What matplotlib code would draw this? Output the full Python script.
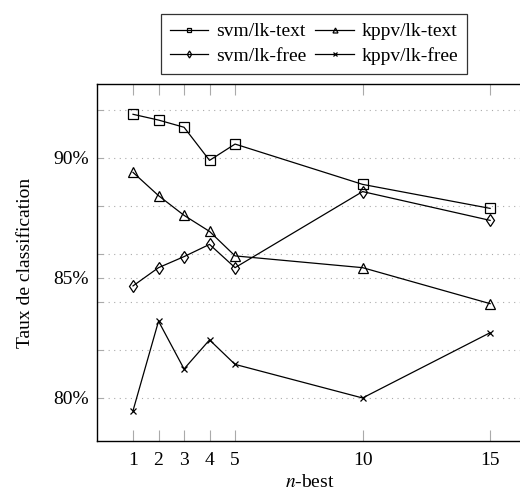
import matplotlib
matplotlib.use("Agg")
import matplotlib.pyplot as plt
from matplotlib.ticker import FixedLocator

plt.rcParams['font.family'] = ['Liberation Serif', 'DejaVu Serif']
plt.rcParams['mathtext.fontset'] = 'stix'

n_best = [1, 2, 3, 4, 5, 10, 15]
svm_text = [91.82, 91.58, 91.28, 89.90, 90.58, 88.90, 87.90]
kppv_text = [89.40, 88.43, 87.61, 86.94, 85.92, 85.43, 83.93]
svm_free = [84.67, 85.43, 85.89, 86.40, 85.43, 88.60, 87.40]
kppv_free = [79.47, 83.20, 81.21, 82.42, 81.40, 80.00, 82.72]
major_y = [80, 85, 90]
minor_y = [82, 84, 86, 88, 92]
y_labels = ['80%', '85%', '90%']

fig = plt.figure(figsize=(5.2, 4.95), dpi=100)
ax = fig.add_axes([97/520, 54.3/495, 425/520, 356.4/495])

lw = 0.9
h1, = ax.plot(n_best, svm_text, color='black', lw=lw, marker='s', ms=6.5, mfc='none', mew=0.9, label='svm/lk-text')
h2, = ax.plot(n_best, kppv_text, color='black', lw=lw, marker='^', ms=6.5, mfc='none', mew=0.9, label='kppv/lk-text')
h3, = ax.plot(n_best, svm_free, color='black', lw=lw, marker='d', ms=6.5, mfc='none', mew=0.9, label='svm/lk-free')
h4, = ax.plot(n_best, kppv_free, color='black', lw=lw, marker='x', ms=5, mew=0.9, label='kppv/lk-free')

ax.set_xlim(-0.412, 16.25)
ax.set_ylim(78.22, 93.07)

ax.set_xticks(n_best)
ax.set_xticklabels([str(v) for v in n_best])
ax.yaxis.set_major_locator(FixedLocator(major_y))
ax.set_yticklabels(y_labels)
ax.yaxis.set_minor_locator(FixedLocator(minor_y))

ax.grid(True, axis='y', which='both', color='#aaaaaa', linestyle=(0, (1, 4)), lw=0.8)
ax.tick_params(axis='x', direction='in', length=8, width=0.8, color='#aaaaaa',
               top=True, bottom=True, labelsize=14, pad=8)
ax.tick_params(axis='y', which='both', direction='in', length=4, width=0.8, color='#aaaaaa',
               left=True, right=False, labelsize=14, pad=6)
for s in ax.spines.values():
    s.set_linewidth(1.0)
    s.set_color('black')

ax.set_xlabel(r'$n$-best', fontsize=14, labelpad=4)
ax.set_ylabel('Taux de classification', fontsize=14, labelpad=14)

handles = [h1, h3, h2, h4]
leg = fig.legend(handles, [h.get_label() for h in handles],
                 loc='upper center', bbox_to_anchor=(314/520, 1 - 14/495), ncol=2,
                 fontsize=14, frameon=True, fancybox=False, edgecolor='black',
                 markerscale=0.55, handlelength=2.0, columnspacing=0.45,
                 handletextpad=0.4, borderpad=0.45, labelspacing=0.35,
                 borderaxespad=0)
leg.get_frame().set_linewidth(0.9)

fig.savefig('out.png', dpi=100)
